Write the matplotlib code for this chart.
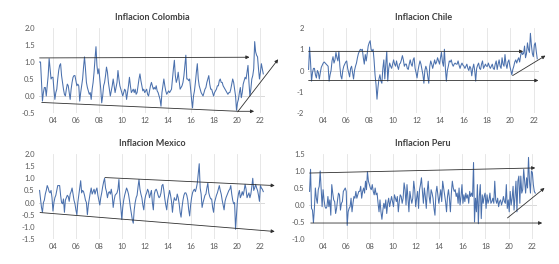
import numpy as np
import matplotlib.pyplot as plt

# monthly inflation (%), starting late 2002
colombia = [
    1.0, 1.0, 0.4, -0.15, 0.1, 0.25, 0.25, 0.0, 0.3, 0.6, 1.1, 0.8,
    0.5, 0.55, 0.55, 0.2, -0.1, 0.1, 0.2, 0.5, 0.75, 0.9, 0.95, 0.6,
    0.4, 0.2, 0.05, 0.0, 0.2, 0.35, 0.3, 0.1, -0.1, 0.2, 0.4, 0.55,
    0.6, 0.6, 0.45, 0.3, 0.35, 0.3, -0.15, 0.1, 0.3, 0.5, 0.85, 1.15,
    0.8, 0.4, 0.25, 0.15, 0.05, 0.1, -0.1, 0.2, 0.4, 0.7, 1.1, 1.45,
    0.9, 0.65, 0.8, 0.5, 0.2, -0.2, 0.0, 0.3, 0.4, 0.6, 0.85, 0.7,
    0.4, 0.2, 0.0, 0.15, 0.3, 0.5, 0.3, 0.1, 0.25, 0.4, 0.75, 0.5,
    0.3, 0.2, 0.1, 0.0, 0.1, 0.2, 0.15, -0.1, 0.1, 0.3, 0.55, 0.3,
    0.1, 0.15, 0.2, 0.1, 0.2, 0.05, 0.1, 0.3, 0.5, 0.65, 0.45, 0.3,
    0.15, 0.2, 0.1, 0.15, 0.2, 0.05, 0.0, 0.15, 0.3, 0.4, 0.3, 0.2,
    0.25, 0.2, 0.3, 0.15, 0.1, 0.0, -0.1, -0.3, 0.1, 0.3, 0.5, 0.3,
    0.15, 0.05, 0.1, 0.15, 0.1, 0.15, 0.2, 0.5, 0.8, 1.05, 0.6, 0.4,
    0.5, 0.7, 0.45, 0.2, 0.25, 0.3, 0.4, 0.6, 0.9, 1.2, 0.5, 0.5,
    0.45, 0.5, 0.2, -0.1, -0.35, 0.0, 0.15, 0.4, 0.7, 0.95, 0.5, 0.3,
    0.2, 0.1, 0.05, 0.0, 0.1, 0.2, 0.25, 0.4, 0.5, 0.6, 0.35, 0.2,
    0.2, 0.1, 0.0, 0.1, 0.15, 0.2, 0.3, 0.3, 0.45, 0.5, 0.4, 0.4,
    0.3, 0.25, 0.2, 0.15, 0.1, 0.05, 0.1, 0.1, 0.2, 0.35, 0.5, 0.4,
    0.2, 0.0, -0.42, -0.2, -0.1, 0.1, 0.25, -0.05, 0.1, 0.35, 0.45, 0.55,
    0.5, 0.7, 0.9, 0.4, 0.0, 0.2, 0.5, 0.6, 0.8, 1.6, 1.3, 1.2,
    1.15, 0.8, 0.5, 0.7, 0.95, 0.8, 0.65,
]

chile = [
    0.05, 1.1, 0.4, -0.5, -0.1, 0.1, 0.1, -0.2, -0.35, 0.0, -0.1, -0.4,
    -0.1, 0.15, 0.25, 0.35, 0.4, 0.35, 0.3, 0.25, 0.2, -0.5, -0.2, 0.0,
    0.45, 0.65, 0.35, 0.5, 0.85, 0.6, 0.45, 0.9, 0.2, -0.25, -0.4, 0.0,
    0.2, 0.3, 0.4, 0.45, 0.1, -0.1, -0.3, 0.1, 0.2, -0.1, -0.4, 0.0,
    0.2, 0.35, 0.6, 0.8, 0.9, 1.0, 0.95, 1.0, 0.6, 0.3, 0.75, 0.45,
    0.8, 1.15, 1.3, 1.4, 1.0, 0.9, 1.0, 0.5, -0.2, -0.65, -1.35, -0.8,
    -0.4, -0.2, -0.5, -0.6, 0.1, 0.5, -0.4, 0.3, 0.9, -0.5, 0.1, 0.35,
    0.2, 0.1, 0.3, 0.5, 0.3, 0.2, 0.45, 0.2, 0.05, 0.3, 0.35, 0.5,
    0.7, 0.5, 0.2, 0.3, 0.3, 0.1, 0.05, 0.3, 0.5, 0.3, 0.2, 0.5,
    0.6, 0.1, -0.1, -0.35, 0.0, 0.25, 0.45, 0.3, 0.05, -0.2, -0.6, 0.0,
    0.2, 0.05, -0.3, -0.6, 0.2, 0.45, 0.3, 0.1, 0.3, 0.5, 0.3, 0.4,
    0.6, 0.45, 0.3, 0.6, 0.85, 0.4, 0.2, 1.0, 0.1, -0.5, 0.0, 0.2,
    0.45, 0.4, 0.5, 0.3, 0.2, 0.3, 0.35, 0.3, 0.3, 0.45, 0.25, 0.1,
    0.25, 0.35, 0.25, 0.2, 0.1, 0.2, 0.3, 0.1, 0.0, 0.2, 0.1, -0.25,
    0.1, 0.3, 0.0, -0.5, 0.1, 0.25, 0.35, 0.1, 0.05, 0.3, 0.45, 0.1,
    0.2, 0.3, 0.2, 0.2, 0.35, 0.2, 0.1, 0.2, 0.3, 0.1, 0.05, 0.3,
    0.45, 0.05, 0.3, 0.5, 0.2, 0.1, 0.6, 0.3, 0.2, 0.75, 0.3, 0.1,
    0.4, 0.5, 0.2, 0.0, -0.2, 0.05, 0.2, 0.4, 0.5, 0.35, 0.5, 0.6,
    0.4, 0.7, 0.9, 0.75, 0.8, 1.15, 0.6, 0.8, 1.3, 1.0, 0.85, 1.75,
    1.2, 0.8, 0.65, 1.2, 1.3, 0.9, 0.55,
]

mexico = [
    0.5, 0.15, -0.2, -0.4, 0.0, 0.1, 0.35, 0.5, 0.7, 0.6, 0.45, 0.4,
    0.5, 0.2, -0.35, 0.0, 0.2, 0.3, 0.5, 0.7, 0.7, 0.7, 0.3, 0.0,
    -0.05, 0.15, -0.4, 0.1, 0.2, 0.3, 0.25, 0.05, 0.35, 0.45, 0.6, 0.35,
    0.1, -0.05, -0.3, -0.5, 0.0, 0.3, 0.6, 0.9, 0.4, 0.5, 0.45, 0.3,
    0.1, 0.0, -0.5, -0.1, 0.15, 0.4, 0.6, 0.35, 0.45, 0.55, 0.35, 0.5,
    0.6, 0.3, 0.1, -0.1, 0.2, 0.4, 0.65, 0.85, 1.0, 0.6, 0.45, 0.2,
    0.4, 0.45, 0.35, 0.55, 0.3, -0.2, 0.1, 0.3, 0.35, 0.4, 0.55, 0.95,
    0.2, -0.2, -0.7, -0.2, 0.1, 0.3, 0.45, 0.6, 0.5, 0.35, 0.1, -0.2,
    -0.45, -0.7, -0.85, -0.3, 0.0, 0.2, 0.3, 0.65, 0.95, 0.55, 0.35, 0.2,
    -0.1, -0.3, 0.1, 0.3, 0.4, 0.55, 0.45, 0.2, 0.35, 0.5, 0.0, -0.3,
    0.35, 0.5, 0.55, 0.45, 0.3, 0.2, 0.25, 0.4, 0.7, 0.75, 0.5, 0.15,
    -0.1, -0.3, 0.1, 0.3, 0.5, 0.3, 0.05, -0.4, 0.0, 0.2, 0.1, 0.1,
    0.35, 0.2, -0.05, -0.4, -0.6, -0.2, 0.1, 0.3, 0.4, 0.4, 0.3, 0.1,
    -0.3, -0.55, -0.1, 0.2, 0.4, 0.5, 0.55, 0.45, 0.6, 0.8, 1.2, 1.6,
    0.6, 0.35, -0.2, 0.0, 0.15, 0.3, 0.35, 0.6, 0.8, 0.4, 0.25, 0.15,
    0.15, -0.2, -0.4, 0.0, 0.15, 0.3, 0.4, 0.55, 0.7, 0.5, 0.35, 0.1,
    -0.1, -0.3, 0.05, 0.2, 0.3, 0.4, 0.5, 0.55, 0.7, 0.35, 0.1, -0.05,
    0.0, -1.1, -0.5, 0.1, 0.35, 0.5, 0.2, 0.3, 0.45, 0.3, 0.5, 0.75,
    0.55, 0.2, 0.3, 0.4, 0.2, 0.35, 0.65, 1.0, 0.5, 0.6, 0.75, 0.6,
    0.5, 0.3, 0.05, 0.7, 0.6, 0.55, 0.45,
]

peru = [
    0.4, 1.05, -0.1, -0.15, -0.52, -0.1, 0.5, 0.2, 0.05, 0.45, 0.55, 1.0,
    0.5, -0.05, 0.45, 0.15, -0.05, -0.1, -0.05, 0.25, -0.05, 0.15, -0.3, 0.6, 0.35,
    0.15, 0.1, -0.25, -0.1, 0.15, 0.35, 0.3, -0.15, 0.05, 0.1, 0.4, 0.45, 0.5,
    0.4, -0.6, -0.2, -0.1, -0.05, 0.2, -0.2, 0.05, 0.25, 0.2, 0.4, 0.2, 0.3,
    0.4, 0.4, 0.55, 0.2, 0.4, 0.5, 0.35, 0.7, 0.45, 0.98, 0.7, 0.6, 0.5,
    0.45, 0.6, 0.4, 0.3, 0.5, 0.3, 0.35, 0.05, -0.2, 0.15, -0.2, -0.42, -0.15,
    0.05, -0.1, 0.15, -0.25, 0.05, 0.2, -0.05, 0.1, 0.25, 0.1, -0.05, 0.3, 0.2,
    0.1, 0.25, -0.2, 0.1, 0.3, 0.25, 0.05, 0.2, 0.65, 0.45, 0.0, 0.6, 0.2,
    -0.2, 0.4, 0.2, 0.05, 0.2, 0.7, 0.45, -0.05, 0.2, 0.4, -0.1, 0.45, 0.6,
    0.8, 0.4, 0.05, 0.5, 0.25, -0.1, 0.4, 0.7, 0.25, 0.05, 0.45, 0.35,
    0.2, -0.1, -0.3, 0.35, 0.55, 0.3, 0.05, 0.25, 0.45, 0.1, 0.7, 0.5, 0.3,
    0.1, -0.2, 0.25, 0.45, 0.2, -0.2, 0.35, 0.7, 0.5, 0.4, 0.45, 0.25,
    0.35, 0.05, 0.5, 0.0, 0.25, 0.6, 0.05, 0.3, 0.1, 0.35, 0.2, 0.3,
    0.05, 0.4, 0.25, 0.35, 0.25, 1.25, -0.5, 0.2, -0.2, 0.6, -0.55, 0.25,
    0.6, -0.4, 0.3, 0.05, 0.25, 0.35, -0.1, 0.3, 0.05, 0.15, 0.35, 0.05,
    0.1, 0.2, 0.05, 0.7, 0.15, 0.05, 0.2, -0.05, 0.1, 0.15, 0.0, 0.1,
    0.25, 0.1, 0.05, 0.6, -0.1, 0.15, -0.2, 0.4, 0.0, 0.2, 0.55, -0.15,
    0.25, 0.7, -0.2, 0.7, 0.85, 0.05, 0.85, 0.35, 0.45, 1.05, 0.7, 0.35,
    0.8, 0.5, 1.4, 0.7, 0.35, 1.0, 0.95, 0.6, 0.4, 0.35,
]

titles = ["Inflacion Colombia", "Inflacion Chile", "Inflacion Mexico", "Inflacion Peru"]
series = [colombia, chile, mexico, peru]
ylims = [(-0.5, 2.0), (-2, 2), (-1.5, 2.0), (-1.0, 1.5)]
ystep = [0.5, 1, 0.5, 0.5]
yfmt = ["{:.1f}", "{:.0f}", "{:.1f}", "{:.1f}"]
year_ticks = list(range(2004, 2023, 2))
year_labels = [f"{y % 100:02d}" for y in year_ticks]

# hand-drawn trend arrows: (x0, y0, x1, y1, with_head)
trends = [
    [(2002.8, 1.12, 2021.1, 1.14, True), (2003.0, -0.19, 2020.1, -0.45, False),
     (2020.1, -0.45, 2021.5, -0.45, True), (2020.1, -0.45, 2023.6, 1.08, True)],
    [(2002.8, 0.9, 2021.1, 0.9, True), (2002.8, -0.47, 2022.4, -0.47, True),
     (2020.2, -0.24, 2023.0, 0.7, True)],
    [(2008.5, 1.03, 2023.3, 0.7, True), (2002.84, -0.41, 2023.3, -1.19, True)],
    [(2002.8, 0.94, 2022.3, 1.09, True), (2002.9, -0.53, 2022.9, -0.53, True),
     (2019.9, -0.38, 2023.1, 0.5, True)],
]

plt.rcParams["font.family"] = ["Lato", "DejaVu Sans"]
fig = plt.figure(figsize=(5.59, 2.64), dpi=100)
boxes = [
    [39 / 559, 1 - 113 / 264, 226 / 559, 85 / 264],
    [308 / 559, 1 - 113 / 264, 231 / 559, 85 / 264],
    [39 / 559, 1 - 239 / 264, 226 / 559, 85 / 264],
    [309 / 559, 1 - 239 / 264, 228 / 559, 85 / 264],
]

for k in range(4):
    ax = fig.add_axes(boxes[k])
    vals = series[k]
    dates = 2002.8 + np.arange(len(vals)) / 12
    ax.plot(dates, vals, color="#4a70ad", lw=0.75)
    ax.axhline(0, color="#d9d9d9", lw=0.7, zorder=0)
    ax.set_xlim(2002.75, 2022.45)
    ax.set_ylim(*ylims[k])
    ax.set_xticks(year_ticks)
    ax.set_xticklabels(year_labels)
    yt = np.arange(ylims[k][0], ylims[k][1] + 0.01, ystep[k])
    ax.set_yticks(yt)
    ax.set_yticklabels([yfmt[k].format(v) for v in yt])
    ax.grid(axis="x", color="#e3e3e3", lw=0.6)
    ax.set_axisbelow(True)
    for s in ax.spines.values():
        s.set_visible(False)
    ax.tick_params(length=0, labelsize=5.5, colors="#595959", pad=3)
    ax.set_title(titles[k], fontsize=6.5, fontweight="bold", color="#404040", pad=6)
    for x0, y0, x1, y1, head in trends[k]:
        if head:
            ax.annotate("", xy=(x1, y1), xytext=(x0, y0), annotation_clip=False,
                        arrowprops=dict(arrowstyle="-|>", color="#303030", lw=0.6,
                                        mutation_scale=5, shrinkA=0, shrinkB=0))
        else:
            ax.plot([x0, x1], [y0, y1], color="#303030", lw=0.6, clip_on=False)

fig.savefig("out.png", dpi=100)
